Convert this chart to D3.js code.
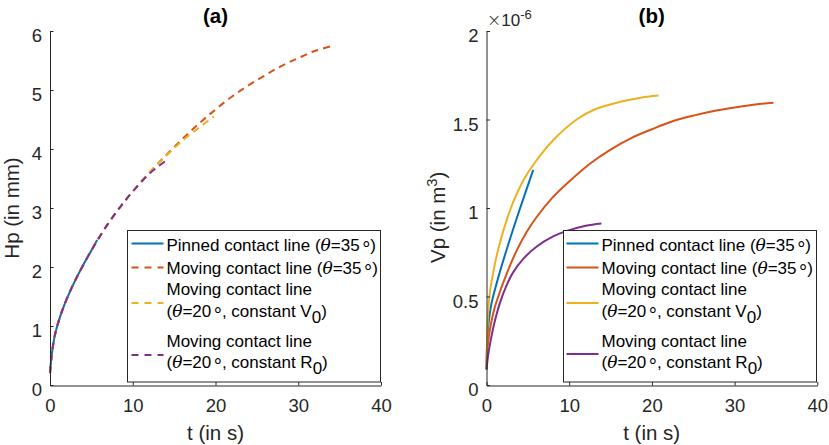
<!DOCTYPE html>
<html>
<head>
<meta charset="utf-8">
<script src="https://cdn.jsdelivr.net/npm/d3@7"></script>
<style>
  html, body { margin: 0; padding: 0; background: #fff; }
  svg { display: block; }
</style>
</head>
<body>
<svg id="fig" width="829" height="445"></svg>
<script>
// ---- data -------------------------------------------------------------
// (a) apex height Hp (mm) versus time t (s)
const hpPinnedT   = [0, 0.2, 0.6, 1.2, 2, 3, 4, 5, 5.7];
const hpPinnedV   = [0.2, 0.5, 0.85, 1.15, 1.45, 1.76, 2.03, 2.28, 2.46];
const hpMoving35T = [0, 0.2, 0.6, 1.2, 2, 3, 4, 5.5, 7, 8.5, 10, 12, 14, 16, 18, 20, 22, 24, 26, 28, 30, 32, 34.2];
const hpMoving35V = [0.2, 0.5, 0.85, 1.15, 1.45, 1.76, 2.03, 2.4, 2.73, 3.02, 3.28, 3.6, 3.89, 4.17, 4.43, 4.67, 4.89, 5.08, 5.25, 5.41, 5.54, 5.66, 5.75];
const hpConstVT   = [0, 0.2, 0.6, 1.2, 2, 3, 4, 5.5, 7, 8.5, 10, 12, 14, 16, 18, 19.8];
const hpConstVV   = [0.2, 0.5, 0.85, 1.15, 1.45, 1.76, 2.03, 2.4, 2.73, 3.02, 3.28, 3.6, 3.88, 4.14, 4.36, 4.55];
const hpConstRT   = [0, 0.2, 0.6, 1.2, 2, 3, 4, 5.5, 7, 8.5, 10, 12, 13.9];
const hpConstRV   = [0.2, 0.5, 0.85, 1.15, 1.45, 1.76, 2.03, 2.4, 2.73, 3.02, 3.28, 3.58, 3.79];

// (b) volume Vp (x1e-6 m^3) versus time t (s)
const vpPinnedT   = [0, 0.05, 0.15, 0.3, 0.6, 1.2, 2.4, 4, 5.65];
const vpPinnedV   = [0.09, 0.2, 0.29, 0.37, 0.46, 0.57, 0.76, 0.99, 1.215];
const vpMoving35T = [0, 0.1, 0.3, 0.6, 1, 1.5, 2, 2.8, 3.6, 4.8, 6, 8, 10, 12.5, 15, 17.5, 20, 22.5, 25, 27.5, 30, 32.5, 34.7];
const vpMoving35V = [0.09, 0.2, 0.28, 0.36, 0.44, 0.51, 0.575, 0.67, 0.755, 0.86, 0.945, 1.06, 1.15, 1.25, 1.33, 1.395, 1.445, 1.49, 1.522, 1.548, 1.568, 1.585, 1.595];
const vpConstVT   = [0, 0.05, 0.15, 0.4, 1, 1.6, 2.5, 3.2, 4.5, 5.9, 8, 10.9, 13, 16.2, 18.5, 20.8];
const vpConstVV   = [0.09, 0.22, 0.36, 0.52, 0.68, 0.8, 0.94, 1.03, 1.16, 1.26, 1.38, 1.5, 1.555, 1.6, 1.622, 1.635];
const vpConstRT   = [0, 0.15, 0.4, 0.9, 1.6, 2.4, 3.2, 4.5, 6, 8, 10, 12, 13.9];
const vpConstRV   = [0.085, 0.15, 0.225, 0.34, 0.46, 0.56, 0.635, 0.715, 0.78, 0.838, 0.875, 0.9, 0.913];

const xTicks  = [0, 10, 20, 30, 40];
const hpTicks = [0, 1, 2, 3, 4, 5, 6];
const vpTicks = [0, 0.5, 1, 1.5, 2];

const legendLabels = [
  ["Pinned contact line (θ=35°)"],
  ["Moving contact line (θ=35°)"],
  ["Moving contact line", "(θ=20°, constant V_0)"],
  ["Moving contact line", "(θ=20°, constant R_0)"]
];

// ---- styling ----------------------------------------------------------
const colors = ["#0072BD", "#D95319", "#EDB120", "#7E2F8E"];
const SANS = "'Liberation Sans', Arial, Helvetica, sans-serif";
const SERIF = "'DejaVu Serif', 'Liberation Serif', serif";
const AXIS = "#262626";
const TICK_FS = 18.5, LABEL_FS = 20.5, LEGEND_FS = 17;

const svg = d3.select("#fig");
const zip = (ts, vs) => ts.map((t, i) => ({ t, v: vs[i] }));

// writes a label containing θ (italic serif), a centred degree ring and _x subscripts
function richText(sel, str, fs) {
  let i = 0, shift = 0;
  const add = (txt) => {
    const ts = sel.append("tspan").text(txt);
    if (shift) { ts.attr("dy", -shift); shift = 0; }
    return ts;
  };
  while (i < str.length) {
    const ch = str[i];
    if (ch === "_") {
      add(str[i + 1]).attr("dy", fs * 0.33);
      shift = fs * 0.33; i += 2; continue;
    }
    if (ch === "θ") {
      add(ch).attr("font-family", SERIF).attr("font-style", "italic");
    } else if (ch === "°") {
      // ring lowered to sit around mid cap height
      add(ch).attr("font-size", fs * 1.2).attr("dx", 2.5).attr("dy", fs * 0.3);
      shift = fs * 0.3;
    } else {
      let j = i;
      while (j < str.length && !"_θ°".includes(str[j])) j++;
      add(str.slice(i, j));
      i = j; continue;
    }
    i++;
  }
}

function panel(cfg) {
  const x = d3.scaleLinear().domain([0, 40]).range(cfg.xRange);
  const y = d3.scaleLinear().domain(cfg.yDomain).range([385, 31]);
  const g = svg.append("g");

  // data curves
  const line = d3.line().x(d => x(d.t)).y(d => y(d.v)).curve(d3.curveCatmullRom.alpha(0.5));
  cfg.series.forEach((s, k) => {
    g.append("path")
      .datum(zip(s[0], s[1]))
      .attr("fill", "none")
      .attr("stroke", colors[k])
      .attr("stroke-width", 2)
      .attr("stroke-dasharray", cfg.dashed[k] ? "7,5" : null)
      .attr("d", line);
  });

  // axes
  const xAxis = d3.axisBottom(x).tickValues(xTicks).tickFormat(d3.format("d"))
    .tickSizeInner(-3.5).tickSizeOuter(0).tickPadding(13.5);
  const yAxis = d3.axisLeft(y).tickValues(cfg.yTicks).tickFormat(d => String(d))
    .tickSizeInner(-3.5).tickSizeOuter(0).tickPadding(8);

  const gx = g.append("g").attr("transform", `translate(0,${385 + cfg.crisp})`).call(xAxis);
  const gy = g.append("g").attr("transform", `translate(${x(0)},0)`).call(yAxis);
  [gx, gy].forEach(a => {
    a.select(".domain").attr("stroke", AXIS);
    a.selectAll(".tick line").attr("stroke", AXIS);
    a.selectAll("text").attr("fill", AXIS).attr("font-family", SANS).attr("font-size", TICK_FS);
  });
  gy.selectAll("text").attr("dy", "0.57em");

  // title
  g.append("text").attr("x", cfg.center).attr("y", 23).attr("text-anchor", "middle")
    .attr("font-family", SANS).attr("font-weight", "bold").attr("font-size", LABEL_FS)
    .attr("fill", "#000").text(cfg.title);

  // x label
  g.append("text").attr("x", cfg.center).attr("y", 440).attr("text-anchor", "middle")
    .attr("font-family", SANS).attr("font-size", LABEL_FS).attr("fill", AXIS).text("t (in s)");

  // y label
  const yl = g.append("text")
    .attr("transform", `translate(${cfg.yLabelX},${cfg.yLabelY}) rotate(-90)`)
    .attr("font-family", SANS).attr("font-size", LABEL_FS).attr("fill", AXIS);
  cfg.yLabel(yl);

  // legend
  const L = cfg.legend;
  const lg = g.append("g");
  lg.append("rect").attr("x", L.x0 + 0.5).attr("y", 230.5)
    .attr("width", L.x1 - L.x0).attr("height", 151.5)
    .attr("fill", "#fff").attr("stroke", AXIS).attr("stroke-width", 1);
  const textRows = [[245], [268], [289, 311], [340.5, 362]];
  legendLabels.forEach((lines, k) => {
    const sy = L.sampleY[k];
    lg.append("line").attr("x1", L.sx0).attr("x2", L.sx1).attr("y1", sy).attr("y2", sy)
      .attr("stroke", colors[k]).attr("stroke-width", 2)
      .attr("stroke-dasharray", cfg.dashed[k] ? "7,6" : null);
    lines.forEach((txt, j) => {
      const t = lg.append("text").attr("x", L.tx).attr("y", textRows[k][j] + 6)
        .attr("font-family", SANS).attr("font-size", LEGEND_FS).attr("fill", "#000");
      richText(t, txt, LEGEND_FS);
    });
  });
  return { x, y, g };
}

// ---- panel (a) --------------------------------------------------------
panel({
  xRange: [50, 381], yDomain: [0, 6], yTicks: hpTicks, crisp: 0.5,
  title: "(a)", center: 215.5,
  series: [[hpPinnedT, hpPinnedV], [hpMoving35T, hpMoving35V], [hpConstVT, hpConstVV], [hpConstRT, hpConstRV]],
  dashed: [false, true, true, true],
  yLabelX: 18.5, yLabelY: 208,
  yLabel: t => t.attr("text-anchor", "middle").text("Hp (in mm)"),
  legend: { x0: 127, x1: 380, sx0: 131.5, sx1: 163.5, tx: 166.5, sampleY: [243.5, 267.5, 303, 355] }
});

// ---- panel (b) --------------------------------------------------------
const pb = panel({
  xRange: [486.5, 817.3], yDomain: [0, 2], yTicks: vpTicks, crisp: 0.5,
  title: "(b)", center: 651.7,
  series: [[vpPinnedT, vpPinnedV], [vpMoving35T, vpMoving35V], [vpConstVT, vpConstVV], [vpConstRT, vpConstRV]],
  dashed: [false, false, false, false],
  yLabelX: 445, yLabelY: 263,
  yLabel: t => {
    t.attr("text-anchor", "start");
    t.append("tspan").text("Vp (in m");
    t.append("tspan").attr("font-size", LABEL_FS * 0.72).attr("dy", -LABEL_FS * 0.38).text("3");
    t.append("tspan").attr("dy", LABEL_FS * 0.38).text(")");
  },
  legend: { x0: 563, x1: 816, sx0: 566.5, sx1: 598.5, tx: 601.5, sampleY: [243.5, 267.5, 303, 354] }
});

// exponent multiplier for the volume axis
const ex = pb.g.append("text").attr("x", 487).attr("y", 26)
  .attr("font-family", SANS).attr("font-size", 17).attr("fill", AXIS);
ex.append("tspan").attr("font-family", "'DejaVu Sans', sans-serif").attr("font-weight", 200).text("×");
ex.append("tspan").text("10");
ex.append("tspan").attr("font-size", 13).attr("dy", -7).text("-6");
</script>
</body>
</html>
